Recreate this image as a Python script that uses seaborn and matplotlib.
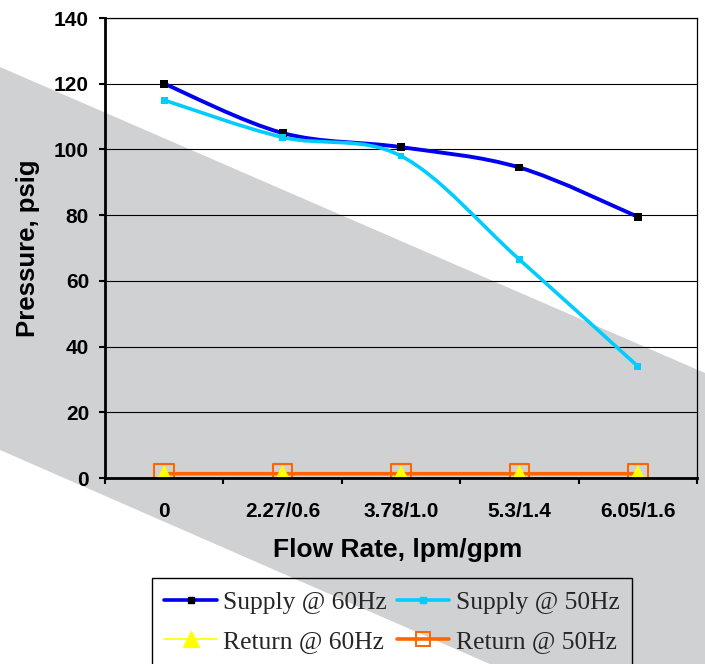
import matplotlib
matplotlib.use('Agg')
import matplotlib.pyplot as plt
from matplotlib.path import Path
from matplotlib.patches import PathPatch, Polygon
from matplotlib.lines import Line2D
import numpy as np
import pandas as pd
import seaborn as sns

# данные графика
flow_labels = ['0', '2.27/0.6', '3.78/1.0', '5.3/1.4', '6.05/1.6']
supply_60 = [120, 105, 100.7, 94.5, 79.5]
supply_50 = [115, 103.7, 98, 66.5, 34]
return_60 = [1.3, 1.3, 1.3, 1.3, 1.3]
return_50 = [1.3, 1.3, 1.3, 1.3, 1.3]

sns.set_theme(style='white')
plt.rcParams['font.family'] = ['Liberation Sans', 'DejaVu Sans']

df = pd.DataFrame({'x': range(len(flow_labels)),
                   'Supply @ 60Hz': supply_60, 'Supply @ 50Hz': supply_50,
                   'Return @ 60Hz': return_60, 'Return @ 50Hz': return_50})


def smooth_path(xs, ys):
    # сглаженная линия как в Excel (безье по Катмуллу-Рому)
    pts = np.column_stack([xs, ys]).astype(float)
    verts = [pts[0]]
    codes = [Path.MOVETO]
    n = len(pts)
    for i in range(n - 1):
        p0 = pts[max(i - 1, 0)]
        p1 = pts[i]
        p2 = pts[i + 1]
        p3 = pts[min(i + 2, n - 1)]
        verts += [p1 + (p2 - p0) / 6, p2 - (p3 - p1) / 6, p2]
        codes += [Path.CURVE4] * 3
    return Path(verts, codes)


fig = plt.figure(figsize=(7.05, 6.64), dpi=100)
# серая диагональная полоса на фоне
W, H = 705, 664
band = [(0, 67), (705, 373), (705, 758), (0, 450)]
fig.patches.append(Polygon([(x / W, 1 - y / H) for x, y in band], closed=True,
                           transform=fig.transFigure, facecolor='#d0d1d3',
                           edgecolor='none', zorder=-5))

ax = fig.add_axes([105 / W, 1 - 478 / H, 592 / W, 460 / H])
ax.patch.set_alpha(0)

# линии
styles = [('Supply @ 60Hz', '#0000ee', 2.8),
          ('Supply @ 50Hz', '#00ccff', 2.6),
          ('Return @ 60Hz', '#ffff00', 1.0),
          ('Return @ 50Hz', '#ff6600', 2.6)]
for name, color, lw in styles:
    ax.add_patch(PathPatch(smooth_path(df['x'], df[name]), facecolor='none',
                           edgecolor=color, lw=lw, zorder=3))

# маркеры
sns.scatterplot(data=df, x='x', y='Supply @ 60Hz', marker='s', s=32, color='black',
                edgecolor='none', zorder=4, ax=ax)
sns.scatterplot(data=df, x='x', y='Supply @ 50Hz', marker='s', s=24, color='#00ccff',
                edgecolor='none', zorder=4, ax=ax)
sns.scatterplot(data=df, x='x', y='Return @ 60Hz', marker='^', s=170, color='#ffff00',
                edgecolor='none', zorder=5, ax=ax)
sns.scatterplot(data=df, x='x', y='Return @ 50Hz', marker='s', s=200, facecolor='none',
                edgecolor='#ff6600', linewidth=1.5, zorder=6, ax=ax)

ax.set_xlim(-0.5, 4.5)
ax.set_ylim(0, 140)
ax.set_yticks(range(0, 141, 20))
ax.set_xticks(range(len(flow_labels)))
ax.set_xticklabels(flow_labels)
ax.set_xticks(np.arange(-0.5, 4.6, 1), minor=True)
ax.yaxis.grid(True, color='black', lw=0.8)
ax.set_axisbelow(True)

for side in ['left', 'bottom']:
    ax.spines[side].set_color('black')
    ax.spines[side].set_linewidth(2.0)
for side in ['top', 'right']:
    ax.spines[side].set_color('black')
    ax.spines[side].set_linewidth(0.9)
ax.spines['left'].set_zorder(7)
ax.spines['bottom'].set_zorder(7)

ax.tick_params(axis='y', which='major', direction='out', length=4.5, width=1.5,
               color='black', left=True, pad=7)
ax.tick_params(axis='x', which='major', length=0, pad=17)
ax.tick_params(axis='x', which='minor', direction='out', length=4.5, width=1.5,
               color='black', bottom=True)
for lab in ax.get_xticklabels() + ax.get_yticklabels():
    lab.set_fontsize(15)
    lab.set_fontweight('bold')
    lab.set_color('black')

ax.set_xlabel('Flow Rate, lpm/gpm', fontsize=19, fontweight='bold', color='black')
ax.set_ylabel('Pressure, psig', fontsize=18.5, fontweight='bold', color='black')
ax.xaxis.set_label_coords(0.495, -0.13)
ax.yaxis.set_label_coords(-0.11, 0.5)

handles = [
    Line2D([], [], color='#0000ee', lw=2.6, marker='s', ms=5, mfc='black', mec='black'),
    Line2D([], [], color='#ffff00', lw=1.2, marker='^', ms=12, mfc='#ffff00', mec='#ffff00'),
    Line2D([], [], color='#00ccff', lw=2.6, marker='s', ms=4.5, mfc='#00ccff', mec='#00ccff'),
    Line2D([], [], color='#ff6600', lw=2.6, marker='s', ms=10.5, mfc='none', mec='#ff6600', mew=1.4),
]
labels = ['Supply @ 60Hz', 'Return @ 60Hz', 'Supply @ 50Hz', 'Return @ 50Hz']
leg = fig.legend(handles, labels, ncol=2, loc='upper center',
                 bbox_to_anchor=(392 / W, 1 - 578 / H), borderaxespad=0,
                 frameon=True, fancybox=False, borderpad=0.5, handlelength=2.05,
                 handletextpad=0.25, columnspacing=0.4, labelspacing=0.65,
                 prop={'family': ['Liberation Serif', 'DejaVu Serif'], 'size': 18.4})
frame = leg.get_frame()
frame.set_facecolor('none')
frame.set_edgecolor('black')
frame.set_alpha(None)
frame.set_linewidth(1.0)

fig.savefig('out.png', dpi=100, facecolor='white')
